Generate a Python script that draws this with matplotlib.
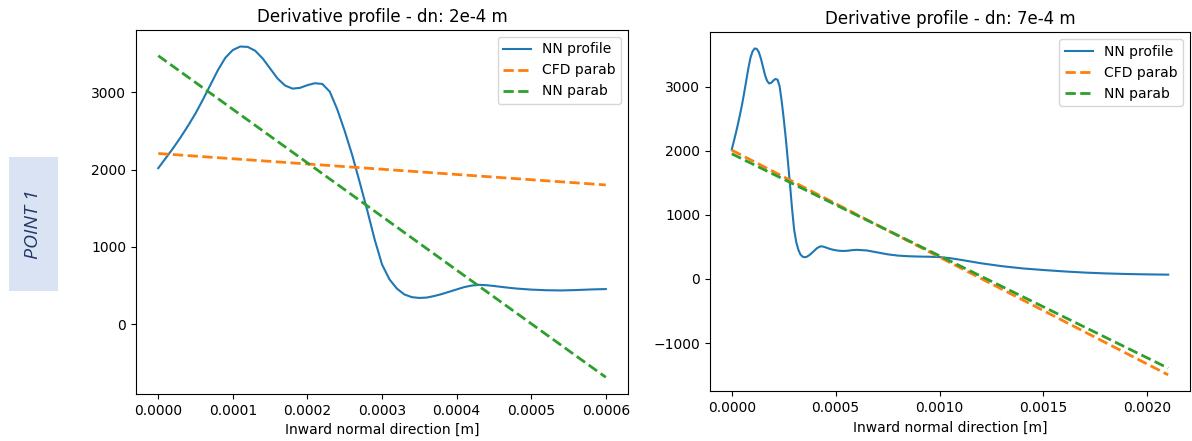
import matplotlib
matplotlib.use('Agg')
import matplotlib.pyplot as plt
from matplotlib.patches import Rectangle

# NN derivative profile (same profile, longer range on the right)
x_left = [0, 0.00001, 0.00002, 0.00003, 0.00004, 0.00005, 0.00006, 0.00007, 0.00008,
          0.00009, 0.00010, 0.00011, 0.00012, 0.00013, 0.00014, 0.00015, 0.00016,
          0.00017, 0.00018, 0.00019, 0.00020, 0.00021, 0.00022, 0.00023, 0.00024,
          0.00025, 0.00026, 0.00027, 0.00028, 0.00029, 0.00030, 0.00031, 0.00032,
          0.00033, 0.00034, 0.00035, 0.00036, 0.00037, 0.00038, 0.00039, 0.00040,
          0.00041, 0.00042, 0.00043, 0.00044, 0.00045, 0.00046, 0.00047, 0.00048,
          0.00049, 0.00050, 0.00052, 0.00054, 0.00056, 0.00058, 0.00060]
nn_left = [2020, 2150, 2280, 2420, 2570, 2730, 2910, 3100, 3290,
           3450, 3550, 3595, 3590, 3540, 3440, 3310, 3180,
           3090, 3050, 3060, 3095, 3120, 3110, 3010, 2780,
           2500, 2190, 1840, 1480, 1100, 773, 580, 460,
           385, 350, 340, 345, 365, 390, 420, 450,
           480, 500, 510, 505, 495, 483, 472, 462,
           455, 448, 440, 437, 442, 450, 455]

x_right_tail = [0.00065, 0.0007, 0.00075, 0.0008, 0.00085, 0.0009, 0.00095, 0.0010,
                0.00105, 0.0011, 0.0012, 0.0013, 0.0014, 0.0015, 0.0016, 0.0017,
                0.0018, 0.0019, 0.0020, 0.0021]
nn_right_tail = [445, 415, 385, 365, 355, 350, 347, 342,
                 325, 300, 245, 200, 165, 140, 118, 100,
                 87, 78, 72, 68]
x_right = x_left + x_right_tail
nn_right = nn_left + nn_right_tail

# parabola derivative fits (linear) - endpoints
left_ends = [0, 0.0006]
cfd_left = [2210, 1803]
nnp_left = [3476, -687]

right_ends = [0, 0.0021]
cfd_right = [2010, -1495]
nnp_right = [1953, -1390]

fig = plt.figure(figsize=(11.92, 4.41), dpi=100)

# side label
fig.patches.append(Rectangle((0.0076, 0.340), 0.0411, 0.304, transform=fig.transFigure,
                             facecolor='#dae3f3', edgecolor='none'))
fig.text(0.0281, 0.492, 'POINT 1', rotation=90, ha='center', va='center',
         fontsize=14, style='italic', color='#203864', family='Open Sans')

ax1 = fig.add_axes([0.114, 0.107, 0.413, 0.825])
ax1.plot(x_left, nn_left, label='NN profile')
ax1.plot(left_ends, cfd_left, '--', lw=2, label='CFD parab')
ax1.plot(left_ends, nnp_left, '--', lw=2, label='NN parab')
ax1.set_title('Derivative profile - dn: 2e-4 m')
ax1.set_xlabel('Inward normal direction [m]')
ax1.set_xticks([0, 0.0001, 0.0002, 0.0003, 0.0004, 0.0005, 0.0006])
ax1.set_yticks([0, 1000, 2000, 3000])
ax1.legend(loc='upper right')

ax2 = fig.add_axes([0.5956, 0.113, 0.4027, 0.814])
ax2.plot(x_right, nn_right, label='NN profile')
ax2.plot(right_ends, cfd_right, '--', lw=2, label='CFD parab')
ax2.plot(right_ends, nnp_right, '--', lw=2, label='NN parab')
ax2.set_title('Derivative profile - dn: 7e-4 m')
ax2.set_xlabel('Inward normal direction [m]')
ax2.set_xticks([0, 0.0005, 0.0010, 0.0015, 0.0020])
ax2.set_yticks([-1000, 0, 1000, 2000, 3000])
ax2.legend(loc='upper right')

fig.savefig('out.png', dpi=100)
